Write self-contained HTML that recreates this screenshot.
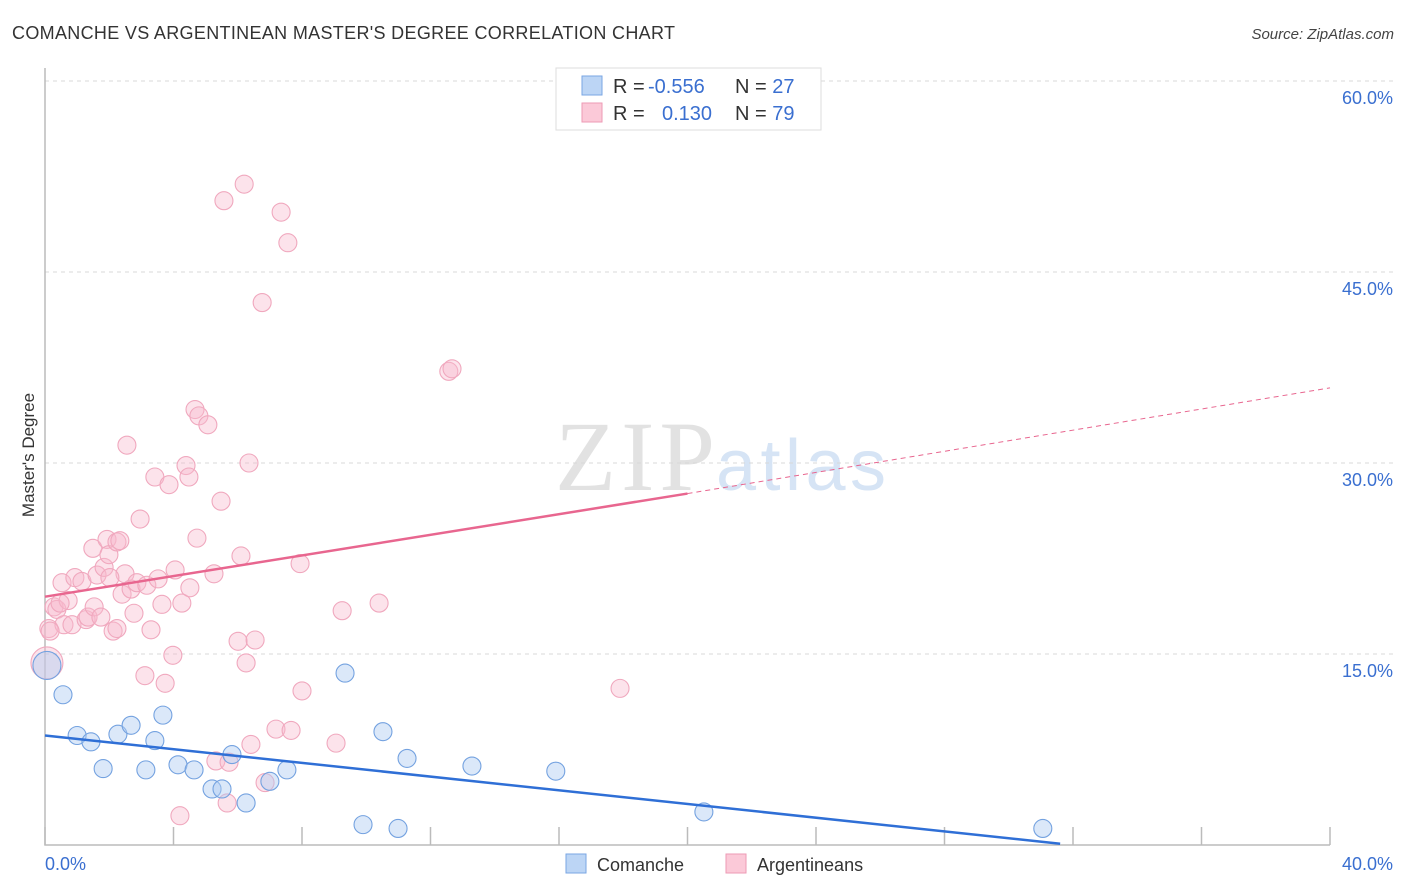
<!DOCTYPE html>
<html><head><meta charset="utf-8"><style>
body{margin:0;background:#fff;font-family:"Liberation Sans",sans-serif;}
svg{display:block}
</style></head><body>
<svg id="chart" width="1406" height="892">
<text x="12" y="39" font-size="18" fill="#333" textLength="663">COMANCHE VS ARGENTINEAN MASTER'S DEGREE CORRELATION CHART</text>
<text x="1394" y="39" font-size="15" fill="#444" font-style="italic" text-anchor="end">Source: ZipAtlas.com</text>
<text x="555" y="490" font-size="100" fill="#e2e2e2" textLength="160" font-family="Liberation Serif,serif">ZIP</text>
<text x="716" y="490" font-size="72" fill="#d6e4f5" textLength="170">atlas</text>
<g id="grid"></g>
<g id="axes"></g>
<g id="pts"></g>
<g id="trend"></g>
<text transform="translate(34,455) rotate(-90)" font-size="17" fill="#333" text-anchor="middle">Master's Degree</text>
<text x="45" y="870" font-size="18" fill="#3a6fd0">0.0%</text>
<text x="1393" y="870" font-size="18" fill="#3a6fd0" text-anchor="end">40.0%</text>
<g>
<rect x="556" y="68" width="265" height="62" fill="#fff" stroke="#ddd"/>
<rect x="582" y="76" width="20" height="19" fill="#bcd5f5" stroke="#7aa6e3"/>
<rect x="582" y="103" width="20" height="19" fill="#fbc9d8" stroke="#ee9ab5"/>
<text x="613" y="93" font-size="20" fill="#333">R = <tspan x="648" fill="#3a6fd0">-0.556</tspan><tspan x="735">N = </tspan><tspan fill="#3a6fd0">27</tspan></text>
<text x="613" y="120" font-size="20" fill="#333">R = <tspan x="662" fill="#3a6fd0">0.130</tspan><tspan x="735">N = </tspan><tspan fill="#3a6fd0">79</tspan></text>
</g>
<g>
<rect x="566" y="854" width="20" height="19" fill="#bcd5f5" stroke="#7aa6e3"/>
<text x="597" y="871" font-size="18" fill="#333">Comanche</text>
<rect x="726" y="854" width="20" height="19" fill="#fbc9d8" stroke="#ee9ab5"/>
<text x="757" y="871" font-size="18" fill="#333">Argentineans</text>
</g>
</svg>
<script>
const yTicks=[15,30,45,60];
const xTicks=[0,4,8,12,16,20,24,28,32,36,40];
const comancheX=[0.06,0.56,1.0,1.43,1.81,2.27,2.68,3.14,3.42,3.67,4.14,4.64,5.2,5.51,5.82,6.26,7.0,7.53,9.34,9.9,10.52,10.99,11.27,13.29,15.9,20.51,31.06];
const comancheY=[14.1,11.8,8.6,8.1,6.0,8.7,9.4,5.9,8.2,10.2,6.3,5.9,4.4,4.4,7.1,3.3,5.0,5.9,13.5,1.6,8.9,1.3,6.8,6.2,5.8,2.6,1.3];
const argX=[0.06,0.12,0.28,0.37,0.53,0.59,0.72,0.84,0.93,1.15,1.28,1.34,1.49,1.53,1.62,1.74,1.84,1.93,1.99,2.12,2.24,2.33,2.4,2.49,2.55,2.68,2.77,2.86,2.96,3.11,3.17,3.3,3.42,3.52,3.64,3.74,3.86,3.98,4.05,4.26,4.39,4.48,4.51,4.67,4.73,4.79,5.07,5.26,5.32,5.48,5.57,5.67,5.73,6.01,6.1,6.2,6.26,6.35,6.41,6.54,6.85,6.76,7.19,7.35,7.56,7.66,7.94,8.0,9.06,9.25,10.4,12.57,12.67,17.9,4.2,0.16,0.47,2.02,2.24];
const argY=[14.3,17.0,18.7,18.5,20.6,17.3,19.2,17.3,21.0,20.7,17.7,17.9,23.3,18.7,21.2,17.9,21.8,24.0,22.8,16.8,23.8,23.9,19.7,21.3,31.4,20.1,18.2,20.6,25.6,13.3,20.4,16.9,28.9,20.9,18.9,12.7,28.3,14.9,21.6,19.0,29.8,28.9,20.2,34.2,24.1,33.7,33.0,21.3,6.6,27.0,50.6,3.3,6.5,16.0,22.7,51.9,14.3,30.0,7.9,16.1,4.9,42.6,9.1,49.7,47.3,9.0,22.1,12.1,8.0,18.4,19.0,37.2,37.4,12.3,2.3,16.8,19.0,21.0,17.0];
const pinkTrend=[19.5,27.6,35.9];
const blueTrend=[8.6,0.1];
const blueTrendX=[0,31.6];
const X=v=>45+v*32.125, Y=v=>845-v*(191/15);
const NS='http://www.w3.org/2000/svg';
function mk(t,a,p){const e=document.createElementNS(NS,t);for(const k in a)e.setAttribute(k,a[k]);p.appendChild(e);return e;}
const grid=document.getElementById('grid'),axes=document.getElementById('axes'),pts=document.getElementById('pts'),tr=document.getElementById('trend');
yTicks.forEach(t=>{
 const l=mk('line',{x1:45,x2:1393,y1:Y(t),y2:Y(t),stroke:'#d8d8d8','stroke-dasharray':'4,4'},grid);
 
 
 const tx=mk('text',{x:1393,y:Y(t)+23,'font-size':18,fill:'#3a6fd0','text-anchor':'end'},grid);
 tx.textContent=t.toFixed(1)+'%';
 
 
});
const ax=mk('path',{d:`M45,68 V845 H1330`,stroke:'#bbb',fill:'none','stroke-width':1.5},axes);


xTicks.forEach(t=>{const l=mk('line',{x1:X(t),x2:X(t),y1:827,y2:845,stroke:'#bbb','stroke-width':1.5},axes);
 
 });
argX.forEach((x,i)=>{const big=i==0;const c=mk('circle',{cx:X(x),cy:Y(argY[i]),r:big?16:9,fill:'rgba(248,185,205,0.4)',stroke:'#f0a8be','stroke-width':1.1},pts);
 
 });
comancheX.forEach((x,i)=>{const big=i==0;const c=mk('circle',{cx:X(x),cy:Y(comancheY[i]),r:big?14:9,fill:'rgba(175,205,242,0.45)',stroke:'#74a2e0','stroke-width':1.1},pts);
 
 });
const p1=mk('line',{x1:X(0),y1:Y(pinkTrend[0]),x2:X(20),y2:Y(pinkTrend[1]),stroke:'#e8668f','stroke-width':2.5},tr);


const p2=mk('line',{x1:X(20),y1:Y(pinkTrend[1]),x2:X(40),y2:Y(pinkTrend[2]),stroke:'#e8668f','stroke-width':1,'stroke-dasharray':'5,4'},tr);


const b1=mk('line',{x1:X(blueTrendX[0]),y1:Y(blueTrend[0]),x2:X(blueTrendX[1]),y2:Y(blueTrend[1]),stroke:'#2f6fd6','stroke-width':2.5},tr);


</script>
</body></html>
